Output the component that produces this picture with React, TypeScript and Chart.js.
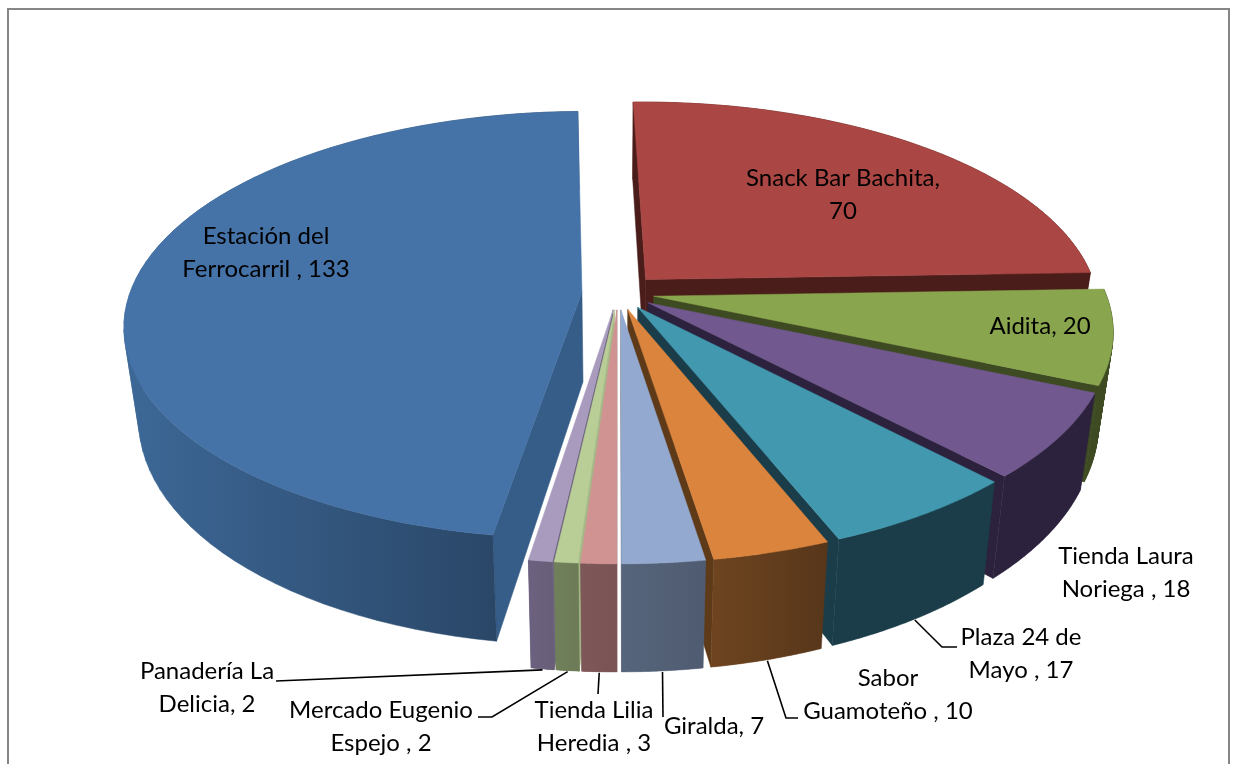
import React, { useEffect, useRef } from "react";
import { Chart, registerables } from "chart.js";

Chart.register(...registerables);

const categories = [
  "Snack Bar Bachita",
  "Aidita",
  "Tienda Laura Noriega",
  "Plaza 24 de Mayo",
  "Sabor Guamoteño",
  "Giralda",
  "Tienda Lilia Heredia",
  "Mercado Eugenio Espejo",
  "Panadería La Delicia",
  "Estación del Ferrocarril",
];
const values = [70, 20, 18, 17, 10, 7, 3, 2, 2, 133];
const explosion = [0.09, 0.08, 0.08, 0.08, 0.08, 0.08, 0.08, 0.08, 0.08, 0.08];

const topColors = ["#aa4643", "#89a54e", "#71588f", "#4198af", "#db843d", "#93a9cf", "#d19392", "#b9cd96", "#a99bbd", "#4572a7"];
const wallLeft = ["#4a1c1a", "#3d4a22", "#2c223d", "#1a3d49", "#6e4420", "#56657c", "#7e5858", "#70805a", "#6c6280", "#3d6897"];
const wallRight = ["#4a1c1a", "#3d4a22", "#2c223d", "#1a3d49", "#57361a", "#4f5b70", "#7a5454", "#6d7c57", "#685e78", "#2a4768"];
const cutColors = ["#4a1c1a", "#3d4a22", "#2c223d", "#1a3d49", "#5e3a18", "#56657c", "#7e5858", "#a4b886", "#6c6280", "#365c88"];

const labelLines = [
  ["Snack Bar Bachita,", "70"],
  ["Aidita, 20"],
  ["Tienda Laura", "Noriega , 18"],
  ["Plaza 24 de", "Mayo , 17"],
  ["Sabor", "Guamoteño , 10"],
  ["Giralda, 7"],
  ["Tienda Lilia", "Heredia , 3"],
  ["Mercado Eugenio", "Espejo , 2"],
  ["Panadería La", "Delicia, 2"],
  ["Estación del", "Ferrocarril , 133"],
];
const labelCentres = [
  [843, 178], [1040, 326], [1126, 556], [1021, 637], [888, 678],
  [714, 726], [594, 710], [381, 710], [207, 671], [266, 236],
];
// leader elbows: [end x, end y, elbow x, elbow y]
const leaders: (number[] | null)[] = [
  null, null, null, [957, 647, 942, 647], [798, 718, 786, 718],
  [663, 717, 663, 717], [598, 694, 598, 694], [478, 717, 492, 717], [276, 681, 276, 681], null,
];

const PERSPECTIVE = 0.155;
const SQUASH = 0.462;
const DEPTH = 90;
const SHRINK = 0.03;
const STEPS = 72;

const pie3d = {
  id: "pie3d",
  beforeDraw(chart: any) {
    const { ctx } = chart;
    ctx.save();
    ctx.fillStyle = "#ffffff";
    ctx.fillRect(0, 0, chart.width, chart.height);
    ctx.fillStyle = "#868686";
    ctx.fillRect(7, 8, 2, chart.height - 8);
    ctx.fillRect(7, 8, 1223, 2);
    ctx.fillRect(1228, 8, 2, chart.height - 8);
    ctx.restore();
  },
  beforeDatasetsDraw(chart: any) {
    const { ctx } = chart;
    const arcs = chart.getDatasetMeta(0).data;
    const order = arcs
      .map((a: any, i: number) => ({ a, i, k: Math.sin((a.startAngle + a.endAngle) / 2) }))
      .sort((p: any, q: any) => p.k - q.k);
    const projectFor = (arc: any, i: number) => {
      const mid = (arc.startAngle + arc.endAngle) / 2;
      const ox = Math.cos(mid) * explosion[i];
      const oy = Math.sin(mid) * explosion[i];
      const R = arc.outerRadius;
      return (u: number, v: number, t: number) => {
        const uu = u + ox;
        const vv = v + oy;
        const w = 1 / (1 - PERSPECTIVE * vv);
        return [arc.x + R * uu * w * (1 - SHRINK * t), arc.y + R * SQUASH * vv * w + DEPTH * t * w];
      };
    };
    const area = (pts: number[][]) =>
      pts.reduce((s, p, n) => {
        const q = pts[(n + 1) % pts.length];
        return s + p[0] * q[1] - q[0] * p[1];
      }, 0);
    // Each shape is one path: pieces are wound the same way, so they merge with no seams.
    const fillShapes = (shapes: number[][][], fill: any) => {
      ctx.beginPath();
      shapes.forEach((shape) => {
        const pts = area(shape) < 0 ? shape.slice().reverse() : shape;
        pts.forEach((p, n) => (n ? ctx.lineTo(p[0], p[1]) : ctx.moveTo(p[0], p[1])));
        ctx.closePath();
      });
      ctx.fillStyle = fill;
      ctx.fill("nonzero");
      ctx.strokeStyle = fill;
      ctx.lineWidth = 0.5;
      ctx.stroke();
    };
    order.forEach(({ a: arc, i }: any) => {
      const P = projectFor(arc, i);
      const top: number[][] = [];
      const bottom: number[][] = [];
      const visX: number[] = [];
      for (let s = 0; s <= STEPS; s++) {
        const ang = arc.startAngle + ((arc.endAngle - arc.startAngle) * s) / STEPS;
        const u = Math.cos(ang);
        const v = Math.sin(ang);
        top.push(P(u, v, 0));
        bottom.push(P(u, v, 1));
        if (v > 0) visX.push(P(u, v, 0)[0]);
      }
      const a0 = P(0, 0, 0);
      const a1 = P(0, 0, 1);
      const startCut = [a0, top[0], bottom[0], a1];
      const endCut = [a0, top[STEPS], bottom[STEPS], a1];
      if (area(startCut) < 0) fillShapes([startCut], cutColors[i]);
      if (area(endCut) > 0) fillShapes([endCut], cutColors[i]);
      const x0 = visX.length ? Math.min(...visX) : arc.x;
      const x1 = visX.length ? Math.max(...visX) : arc.x + 1;
      const grad = ctx.createLinearGradient(x0, 0, x1 + 0.01, 0);
      grad.addColorStop(0, wallLeft[i]);
      grad.addColorStop(1, wallRight[i]);
      const quads: number[][][] = [];
      for (let s = 0; s < STEPS; s++) {
        quads.push([top[s], top[s + 1], bottom[s + 1], bottom[s]]);
      }
      fillShapes(quads, grad);
      fillShapes([[a0, ...top]], topColors[i]);
    });

    // leader lines, from the slice's lower rim out to the label
    ctx.strokeStyle = "#000000";
    ctx.lineWidth = 1.6;
    arcs.forEach((arc: any, i: number) => {
      const l = leaders[i];
      if (!l) return;
      const mid = (arc.startAngle + arc.endAngle) / 2;
      const p = projectFor(arc, i)(Math.cos(mid), Math.sin(mid), 1);
      ctx.beginPath();
      ctx.moveTo(p[0], p[1] + 1);
      ctx.lineTo(l[2], l[3]);
      ctx.lineTo(l[0], l[1]);
      ctx.stroke();
    });

    // data labels
    ctx.fillStyle = "#000000";
    ctx.font = '24px Lato, "Open Sans", sans-serif';
    ctx.textAlign = "center";
    ctx.textBaseline = "middle";
    labelLines.forEach((lines, i) => {
      lines.forEach((line, n) => {
        ctx.fillText(line, labelCentres[i][0], labelCentres[i][1] + n * 33);
      });
    });
    return false;
  },
};

export default function App() {
  const ref = useRef<HTMLCanvasElement>(null);
  useEffect(() => {
    document.body.style.margin = "0";
    document.body.style.overflow = "hidden";
    const chart = new Chart(ref.current as HTMLCanvasElement, {
      type: "pie",
      data: {
        labels: categories,
        datasets: [{ data: values, backgroundColor: topColors, borderWidth: 0 }],
      },
      options: {
        responsive: false,
        animation: false,
        devicePixelRatio: 1,
        events: [],
        radius: 452,
        rotation: -1.3,
        layout: { padding: { left: 3, bottom: 178 } },
        plugins: { legend: { display: false }, tooltip: { enabled: false } },
      },
      plugins: [pie3d],
    } as any);
    return () => chart.destroy();
  }, []);
  return <canvas ref={ref} width={1233} height={764} style={{ display: "block" }} />;
}
